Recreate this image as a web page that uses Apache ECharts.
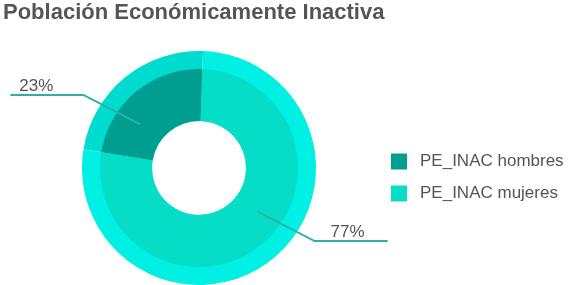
<!DOCTYPE html>
<html>
<head>
<meta charset="utf-8">
<script src="https://cdn.jsdelivr.net/npm/echarts@6/dist/echarts.min.js"></script>
<style>html,body{margin:0;padding:0;background:#fff}#c{width:570px;height:285px}</style>
</head>
<body>
<div id="c"></div>
<script>
const titleText = 'Población Económicamente Inactiva';
const categories = ['PE_INAC hombres', 'PE_INAC mujeres'];
const values = [23, 77];
const innerColors = ['#009e91', '#05ddc7'];
const outerColors = ['#00dbcf', '#00f0e4'];

const FONT = '"Liberation Sans", Arial, Helvetica, sans-serif';
const CX = 199, CY = 168, R_HOLE = 47, R_IN = 99, R_OUT = 117, START = 88;

const chart = echarts.init(document.getElementById('c'), null, {renderer: 'canvas'});
const total = values.reduce((a, b) => a + b, 0);

function midAngleCW(idx) {
  let acc = 0;
  for (let i = 0; i < idx; i++) acc += values[i];
  const startCW = 90 - START;
  const a0 = startCW - acc / total * 360;
  const a1 = startCW - (acc + values[idx]) / total * 360;
  return ((a0 + a1) / 2 + 720) % 360;
}

const option = {
  animation: false,
  title: {
    text: titleText, left: 0, top: 0, padding: [2, 3],
    textStyle: {fontFamily: FONT, fontSize: 22, fontWeight: 'bold', color: '#555555'}
  },
  legend: {
    orient: 'vertical', left: 386, top: 148, itemWidth: 16, itemHeight: 16, itemGap: 15,
    icon: 'rect',
    data: categories.map((n, i) => ({name: n, itemStyle: {color: innerColors[i]}})),
    textStyle: {fontFamily: FONT, fontSize: 17, color: '#555555', padding: [0, 0, 0, 8]},
    selectedMode: false
  },
  series: [
    {
      type: 'pie', z: 3, center: [CX, CY], radius: [R_HOLE, R_IN],
      startAngle: START, clockwise: false, silent: true,
      data: categories.map((n, i) => ({name: n, value: values[i], itemStyle: {color: innerColors[i]}})),
      label: {show: false}, labelLine: {show: false},
      emphasis: {disabled: true}
    },
    {
      type: 'pie', z: 2, center: [CX, CY], radius: [R_HOLE, R_OUT],
      startAngle: START, clockwise: false, silent: true,
      data: categories.map((n, i) => ({name: n, value: values[i], itemStyle: {color: outerColors[i]}})),
      label: {show: false}, labelLine: {show: false},
      emphasis: {disabled: true}
    },
    {
      type: 'pie', z: 5, center: [CX, CY], radius: [R_HOLE, R_IN],
      startAngle: START, clockwise: false, silent: true,
      data: categories.map((n, i) => ({name: n, value: values[i], itemStyle: {color: 'rgba(0,0,0,0)'}})),
      label: {
        show: true, position: 'outside',
        formatter: p => Math.round(p.percent) + '%',
        fontFamily: FONT, fontSize: 17, color: '#555555'
      },
      labelLine: {show: true, minTurnAngle: 0, maxSurfaceAngle: 180, lineStyle: {color: '#2ab3a5', width: 2}},
      labelLayout: function (params) {
        const idx = params.dataIndex;
        const ang = (midAngleCW(idx) - 14) * Math.PI / 180;
        const rm = (R_HOLE + R_IN) / 2;
        const sx = CX + rm * Math.sin(ang), sy = CY - rm * Math.cos(ang);
        const left = Math.sin(ang) < 0;
        const dir = left ? -1 : 1;
        const kx = sx + dir * 57, ky = sy + (Math.cos(ang) > 0 ? -1 : 1) * 29.5;
        const ex = kx + dir * 73;
        return {
          x: left ? kx - 30 : kx + 16,
          y: ky,
          align: left ? 'right' : 'left',
          verticalAlign: 'bottom',
          labelLinePoints: [[sx, sy], [kx, ky], [ex, ky]]
        };
      },
      emphasis: {disabled: true}
    }
  ]
};
chart.setOption(option);
</script>
</body>
</html>
